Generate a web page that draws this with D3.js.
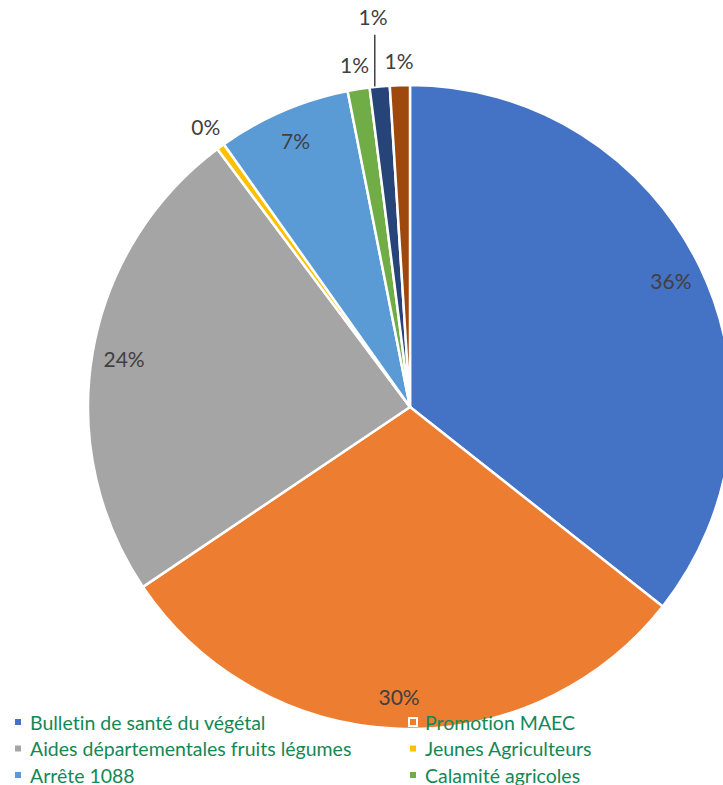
<!DOCTYPE html>
<html><head><meta charset="utf-8">
<script src="https://cdn.jsdelivr.net/npm/d3@7"></script>
<style>html,body{margin:0;padding:0;background:#fff;overflow:hidden} text{font-variant-ligatures:none;font-feature-settings:"liga" 0}</style>
</head><body>
<svg id="chart" width="723" height="785"></svg>
<script>
const categories = ["Bulletin de santé du végétal","Promotion MAEC","Aides départementales fruits légumes","Jeunes Agriculteurs","Arrête 1088","Calamité agricoles","Autres","Divers"];
const values = [35.6, 29.9, 24.2, 0.4, 6.7, 1.1, 1.0, 1.0];
const labels = ["36%","30%","24%","0%","7%","1%","1%","1%"];
const colors = ["#4472C4","#ED7D31","#A5A5A5","#FFC000","#5B9BD5","#70AD47","#264478","#9E480E"];
const labelOutside = [false,false,false,true,false,true,true,true];
const legendVisible = 6;

const svg = d3.select("#chart");
const cx = 410, cy = 407, R = 322;
const g = svg.append("g").attr("transform", `translate(${cx},${cy})`);
const pie = d3.pie().sort(null).value(d => d)(values);
const arc = d3.arc().innerRadius(0).outerRadius(R);
g.selectAll("path").data(pie).enter().append("path")
  .attr("d", arc).attr("fill", (d,i) => colors[i])
  .attr("stroke", "#fff").attr("stroke-width", 2.5).attr("stroke-linejoin","round");

const font = "Lato, 'Open Sans', sans-serif";
function pos(d, r) {
  const a = (d.startAngle + d.endAngle) / 2;
  return [Math.sin(a) * r, -Math.cos(a) * r];
}
pie.forEach((d, i) => {
  let r = labelOutside[i] ? 347 : 290;
  if (i === 6) r = 392;
  const [x, y] = pos(d, r);
  g.append("text").attr("x", x).attr("y", y).attr("text-anchor","middle")
    .attr("dominant-baseline","central").attr("font-family", font).attr("font-size", 21)
    .attr("fill", "#404040").text(labels[i]);
  if (i === 6) {
    const [x1, y1] = pos(d, 374);
    const [x2, y2] = pos(d, R);
    g.append("line").attr("x1", x1).attr("y1", y1).attr("x2", x1).attr("y2", y2)
      .attr("stroke", "#404040").attr("stroke-width", 1.5);
  }
});

// legend
const legend = svg.append("g");
categories.slice(0, legendVisible).forEach((c, i) => {
  const col = i % 2, row = Math.floor(i / 2);
  const x = col === 0 ? 14 : 409;
  const y = 722 + row * 26.5;
  legend.append("rect").attr("x", x).attr("y", y - 4).attr("width", 8).attr("height", 8)
    .attr("fill", colors[i]).attr("stroke", "#fff").attr("stroke-width", 2);
  legend.append("text").attr("x", x + 16).attr("y", y).attr("dominant-baseline","central")
    .attr("font-family", font).attr("font-size", 19.5).attr("fill", "#138856").text(c);
});
</script>
</body></html>
